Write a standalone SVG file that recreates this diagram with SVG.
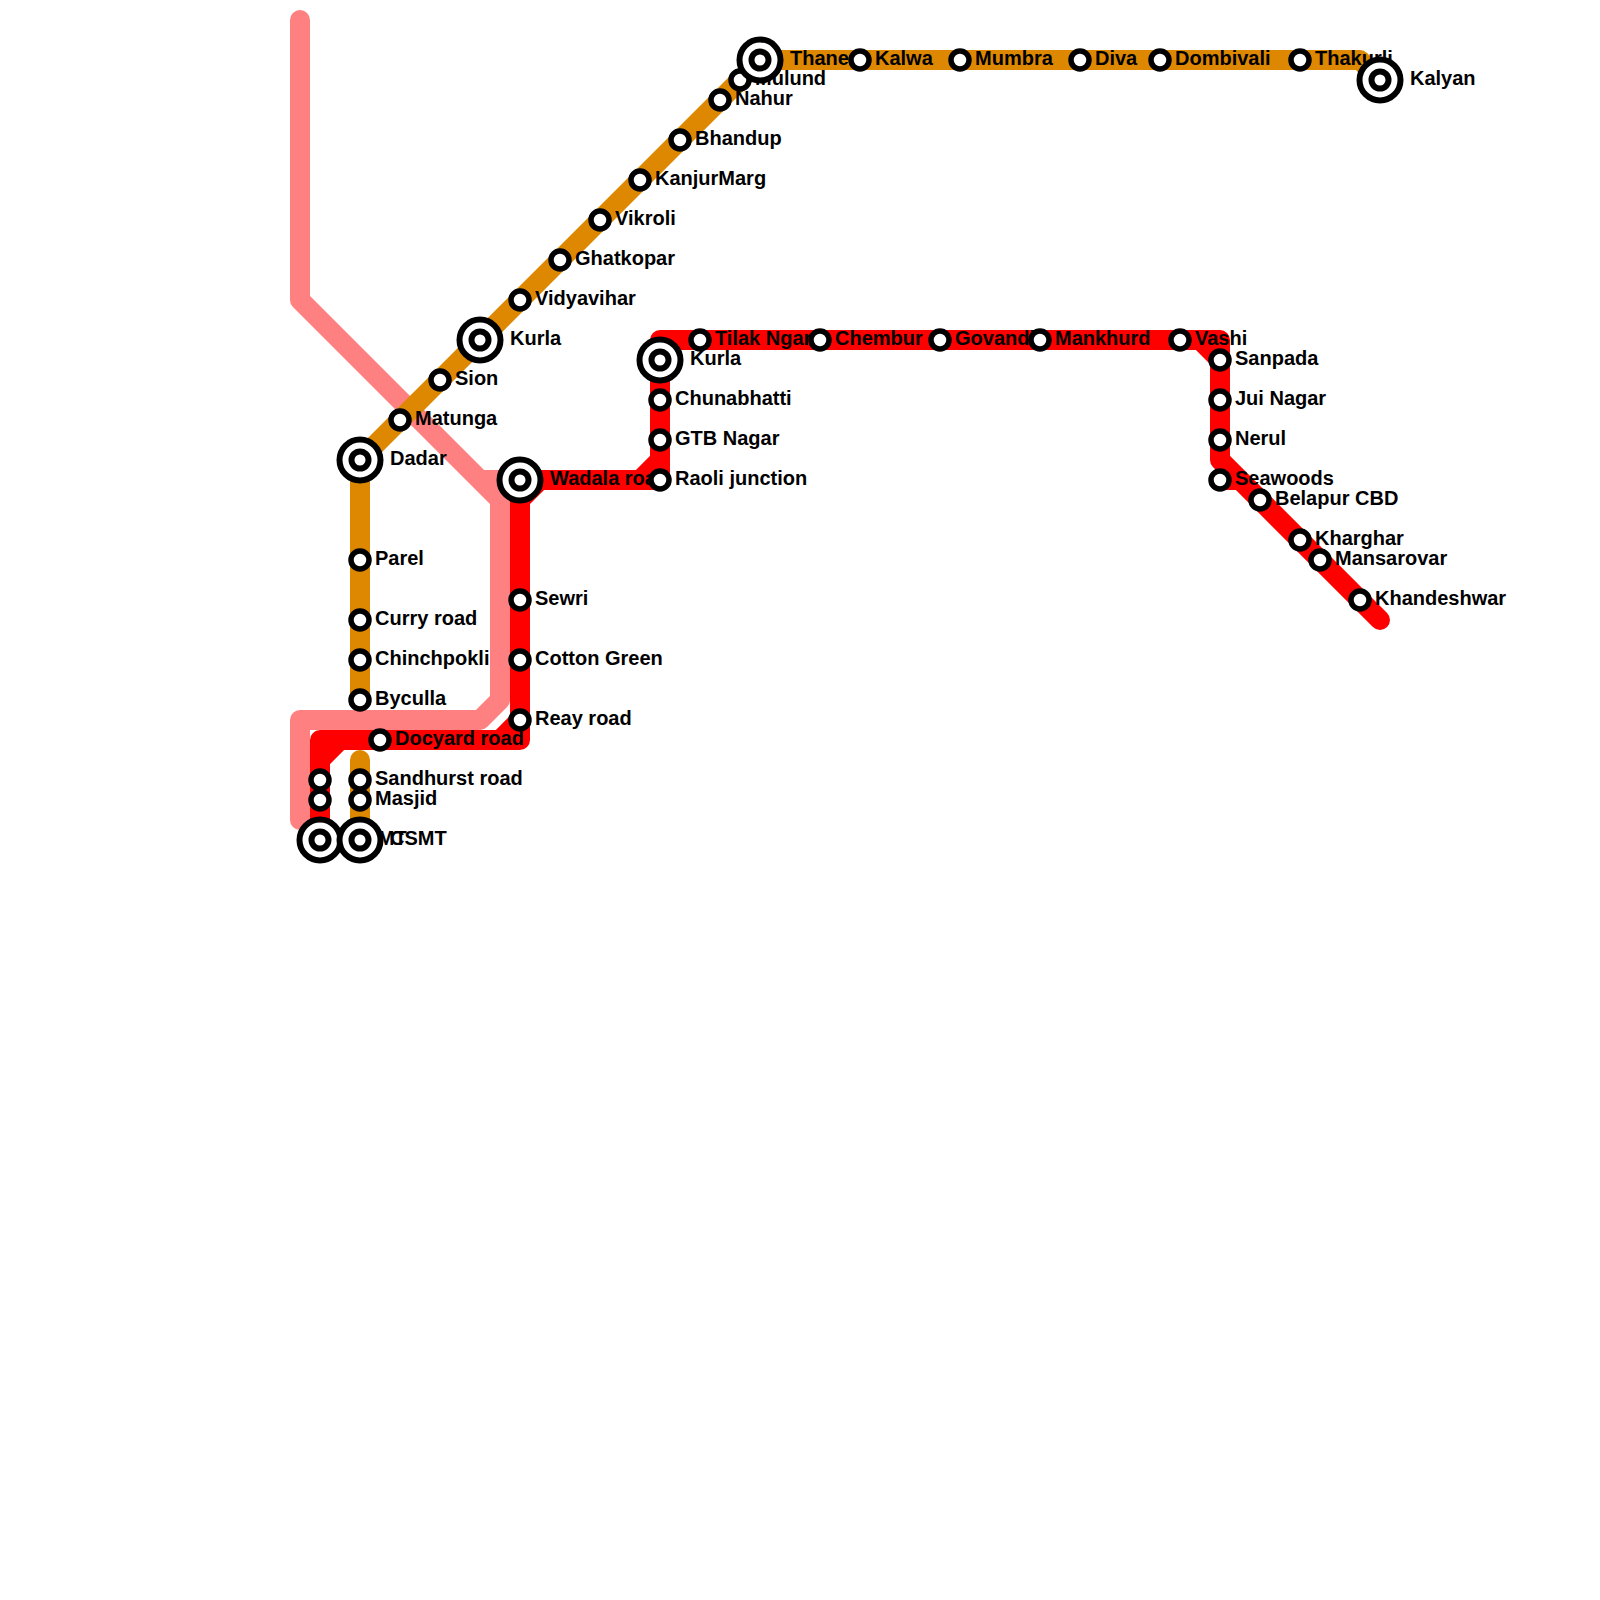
<svg xmlns="http://www.w3.org/2000/svg" width="1600" height="1600" viewBox="0 0 1600 1600">
<style>
.l{fill:none;stroke-width:20;stroke-linejoin:round;stroke-linecap:round}
.o{stroke:#dd8800}.r{stroke:#ff0000}.p{stroke:#ff8080}
text{font-family:"Liberation Sans",Arial,sans-serif;font-size:20px;font-weight:bold;fill:#000}
.s{fill:#fff;stroke:#000;stroke-width:5.5}
.t{fill:#fff;stroke:#000;stroke-width:6}
.u{fill:#fff;stroke:#000;stroke-width:6}
</style>
<defs>
<g id="st"><circle class="s" r="9"/></g>
<g id="ic"><circle class="t" r="20.5"/><circle class="u" r="8.5"/></g>
</defs>
<g id="connectors">
<path class="l p" d="M300 20V300L500 500V700L480 720H300V820M480 480H500V500"/>
<path class="l r" d="M320 830V740H520V490M320 760L340 740M500 740L520 720M520 500L540 480M530 480H660M640 480L660 460M660 480V340H1220V460L1380 620M1200 340L1220 360M1220 480H1240"/>
<path class="l o" d="M360 760V830M360 700V460L760 60H1360L1380 80"/>
</g>
<g id="labels">
<text x="390" y="465">Dadar</text>
<text x="375" y="565">Parel</text>
<text x="375" y="625">Curry road</text>
<text x="375" y="665">Chinchpokli</text>
<text x="375" y="705">Byculla</text>
<text x="395" y="745">Docyard road</text>
<text x="375" y="785">Sandhurst road</text>
<text x="375" y="805">Masjid</text>
<text x="350" y="845">CSMT</text>
<text x="390" y="845">CSMT</text>
<text x="415" y="425">Matunga</text>
<text x="455" y="385">Sion</text>
<text x="510" y="345">Kurla</text>
<text x="535" y="305">Vidyavihar</text>
<text x="575" y="265">Ghatkopar</text>
<text x="615" y="225">Vikroli</text>
<text x="655" y="185">KanjurMarg</text>
<text x="695" y="145">Bhandup</text>
<text x="735" y="105">Nahur</text>
<text x="755" y="85">Mulund</text>
<text x="790" y="65">Thane</text>
<text x="875" y="65">Kalwa</text>
<text x="975" y="65">Mumbra</text>
<text x="1095" y="65">Diva</text>
<text x="1175" y="65">Dombivali</text>
<text x="1315" y="65">Thakurli</text>
<text x="1410" y="85">Kalyan</text>
<text x="550" y="485">Wadala road</text>
<text x="535" y="605">Sewri</text>
<text x="535" y="665">Cotton Green</text>
<text x="535" y="725">Reay road</text>
<text x="675" y="405">Chunabhatti</text>
<text x="675" y="445">GTB Nagar</text>
<text x="675" y="485">Raoli junction</text>
<text x="690" y="365">Kurla</text>
<text x="715" y="345">Tilak Ngar</text>
<text x="835" y="345">Chembur</text>
<text x="955" y="345">Govandi</text>
<text x="1055" y="345">Mankhurd</text>
<text x="1195" y="345">Vashi</text>
<text x="1235" y="365">Sanpada</text>
<text x="1235" y="405">Jui Nagar</text>
<text x="1235" y="445">Nerul</text>
<text x="1235" y="485">Seawoods</text>
<text x="1275" y="505">Belapur CBD</text>
<text x="1315" y="545">Kharghar</text>
<text x="1335" y="565">Mansarovar</text>
<text x="1375" y="605">Khandeshwar</text>
</g>
<g id="n-dadar"><use href="#ic" x="360" y="460"/></g>
<g id="n-parel"><use href="#st" x="360" y="560"/></g>
<g id="n-curry"><use href="#st" x="360" y="620"/></g>
<g id="n-chinchpokli"><use href="#st" x="360" y="660"/></g>
<g id="n-byculla"><use href="#st" x="360" y="700"/></g>
<g id="n-docyard"><use href="#st" x="380" y="740"/></g>
<g id="n-sandhurst"><use href="#st" x="360" y="780"/></g>
<g id="n-masjid"><use href="#st" x="360" y="800"/></g>
<g id="n-a1"><use href="#st" x="320" y="780"/></g>
<g id="n-a2"><use href="#st" x="320" y="800"/></g>
<g id="n-mt"><use href="#ic" x="320" y="840"/></g>
<g id="n-csmt"><use href="#ic" x="360" y="840"/></g>
<g id="n-matunga"><use href="#st" x="400" y="420"/></g>
<g id="n-sion"><use href="#st" x="440" y="380"/></g>
<g id="n-kurla"><use href="#ic" x="480" y="340"/></g>
<g id="n-vidyavihar"><use href="#st" x="520" y="300"/></g>
<g id="n-ghatkopar"><use href="#st" x="560" y="260"/></g>
<g id="n-vikroli"><use href="#st" x="600" y="220"/></g>
<g id="n-kanjurmarg"><use href="#st" x="640" y="180"/></g>
<g id="n-bhandup"><use href="#st" x="680" y="140"/></g>
<g id="n-nahur"><use href="#st" x="720" y="100"/></g>
<g id="n-mulund"><use href="#st" x="740" y="80"/></g>
<g id="n-thane"><use href="#ic" x="760" y="60"/></g>
<g id="n-kalwa"><use href="#st" x="860" y="60"/></g>
<g id="n-mumbra"><use href="#st" x="960" y="60"/></g>
<g id="n-diva"><use href="#st" x="1080" y="60"/></g>
<g id="n-dombivali"><use href="#st" x="1160" y="60"/></g>
<g id="n-thakurli"><use href="#st" x="1300" y="60"/></g>
<g id="n-kalyan"><use href="#ic" x="1380" y="80"/></g>
<g id="n-wadala"><use href="#ic" x="520" y="480"/></g>
<g id="n-sewri"><use href="#st" x="520" y="600"/></g>
<g id="n-cotton"><use href="#st" x="520" y="660"/></g>
<g id="n-reay"><use href="#st" x="520" y="720"/></g>
<g id="n-chunabhatti"><use href="#st" x="660" y="400"/></g>
<g id="n-gtb"><use href="#st" x="660" y="440"/></g>
<g id="n-raoli"><use href="#st" x="660" y="480"/></g>
<g id="n-kurla2"><use href="#ic" x="660" y="360"/></g>
<g id="n-tilak"><use href="#st" x="700" y="340"/></g>
<g id="n-chembur"><use href="#st" x="820" y="340"/></g>
<g id="n-govandi"><use href="#st" x="940" y="340"/></g>
<g id="n-mankhurd"><use href="#st" x="1040" y="340"/></g>
<g id="n-vashi"><use href="#st" x="1180" y="340"/></g>
<g id="n-sanpada"><use href="#st" x="1220" y="360"/></g>
<g id="n-jui"><use href="#st" x="1220" y="400"/></g>
<g id="n-nerul"><use href="#st" x="1220" y="440"/></g>
<g id="n-seawoods"><use href="#st" x="1220" y="480"/></g>
<g id="n-belapur"><use href="#st" x="1260" y="500"/></g>
<g id="n-kharghar"><use href="#st" x="1300" y="540"/></g>
<g id="n-mansarovar"><use href="#st" x="1320" y="560"/></g>
<g id="n-khandeshwar"><use href="#st" x="1360" y="600"/></g>
</svg>
